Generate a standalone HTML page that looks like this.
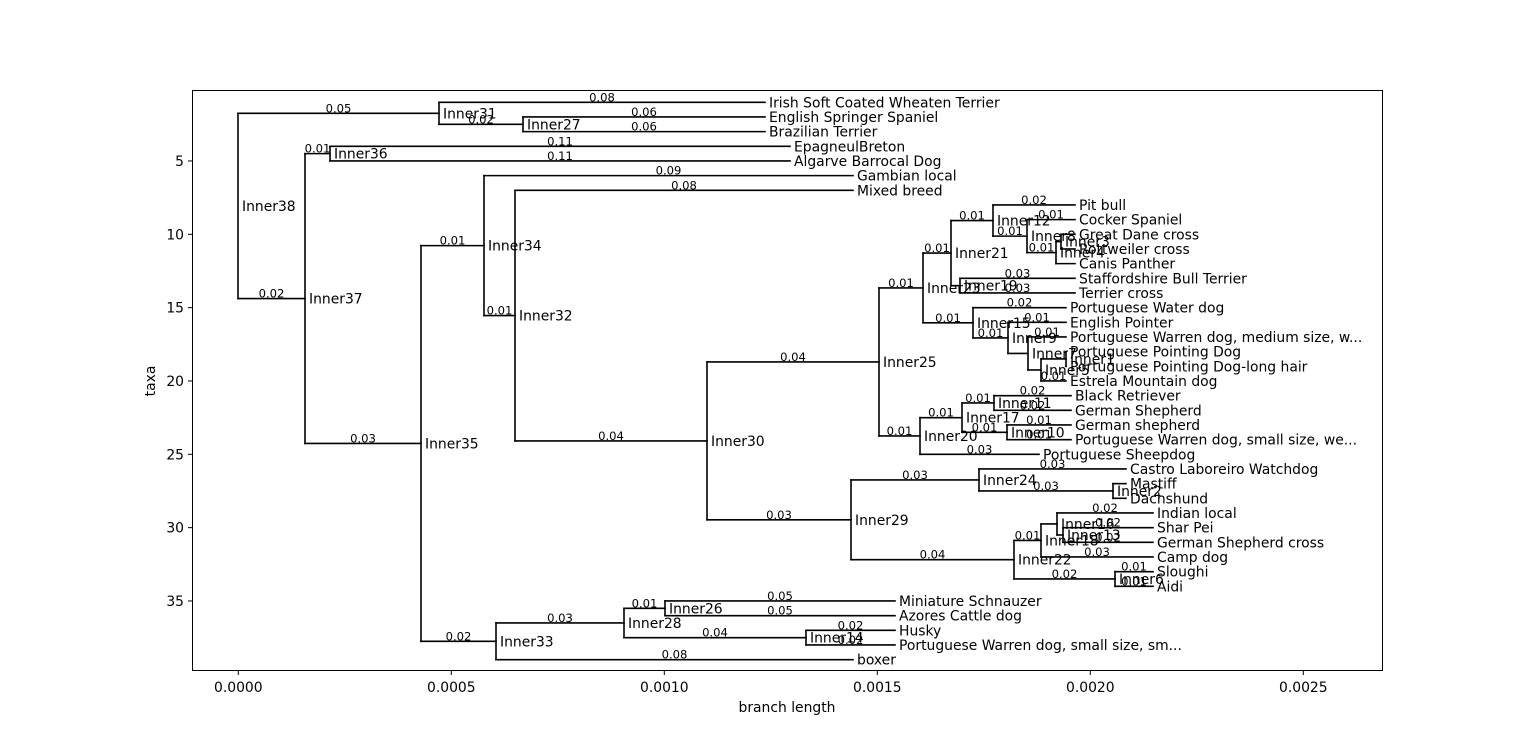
<!DOCTYPE html>
<html><head><meta charset="utf-8"><style>
html,body{margin:0;padding:0;background:#fff;}
svg{display:block;font-family:"DejaVu Sans","Liberation Sans",sans-serif;}
</style></head><body>
<svg id="s" width="1536" height="754" xmlns="http://www.w3.org/2000/svg">
<rect x="192.5" y="90.5" width="1190" height="580" fill="none" stroke="#000" stroke-width="1"/>
<g font-size="13.9" fill="#000" text-anchor="middle">
<text x="238.3" y="692">0.0000</text><text x="451.3" y="692">0.0005</text><text x="664.3" y="692">0.0010</text>
<text x="877.3" y="692">0.0015</text><text x="1090.3" y="692">0.0020</text><text x="1303.3" y="692">0.0025</text>
<text x="787" y="712">branch length</text>
</g>
<g stroke="#000" stroke-width="1">
<line x1="238.3" y1="671" x2="238.3" y2="675"/><line x1="451.3" y1="671" x2="451.3" y2="675"/><line x1="664.3" y1="671" x2="664.3" y2="675"/>
<line x1="877.3" y1="671" x2="877.3" y2="675"/><line x1="1090.3" y1="671" x2="1090.3" y2="675"/><line x1="1303.3" y1="671" x2="1303.3" y2="675"/>
</g>
<g id="yt" font-size="13.9" text-anchor="end"></g>
<text x="155" y="381" font-size="13.9" text-anchor="middle" transform="rotate(-90 155 381)">taxa</text>
<g id="tree"></g>
</svg>
<script>
var svg="http://www.w3.org/2000/svg";
function Y(i){return 102.3+(i-1)*14.667;}
var yt=document.getElementById('yt');
[5,10,15,20,25,30,35].forEach(function(v){
 var y=Y(v);
 var l=document.createElementNS(svg,'line');l.setAttribute('x1',188);l.setAttribute('x2',192);l.setAttribute('y1',y);l.setAttribute('y2',y);l.setAttribute('stroke','#000');yt.appendChild(l);
 var t=document.createElementNS(svg,'text');t.setAttribute('x',184);t.setAttribute('y',y+5);t.textContent=v;yt.appendChild(t);
});
function L(n,x,b){return [n,x,b,null];}
var tree=["Inner38",238,"",[
 ["Inner31",439,"0.05",[
   L("Irish Soft Coated Wheaten Terrier",765,"0.08"),
   ["Inner27",523,"0.02",[L("English Springer Spaniel",765,"0.06"),L("Brazilian Terrier",765,"0.06")]]]],
 ["Inner37",305,"0.02",[
   ["Inner36",330,"0.01",[L("EpagneulBreton",790,"0.11"),L("Algarve Barrocal Dog",790,"0.11")]],
   ["Inner35",421,"0.03",[
     ["Inner34",484,"0.01",[
       L("Gambian local",853,"0.09"),
       ["Inner32",515,"0.01",[
         L("Mixed breed",853,"0.08"),
         ["Inner30",707,"0.04",[
           ["Inner25",879,"0.04",[
             ["Inner23",923,"0.01",[
               ["Inner21",951,"0.01",[
                 ["Inner12",993,"0.01",[
                   L("Pit bull",1075,"0.02"),
                   ["Inner8",1027,"0.01",[
                     L("Cocker Spaniel",1075,"0.01"),
                     ["Inner4",1056,"0.01",[
                       ["Inner3",1061,"",[L("Great Dane cross",1075,""),L("Rottweiler cross",1075,"")]],
                       L("Canis Panther",1075,"")]]]]]],
                 ["Inner19",960,"",[L("Staffordshire Bull Terrier",1075,"0.03"),L("Terrier cross",1075,"0.03")]]]],
               ["Inner15",973,"0.01",[
                 L("Portuguese Water dog",1066,"0.02"),
                 ["Inner9",1008,"0.01",[
                   L("English Pointer",1066,"0.01"),
                   ["Inner7",1028,"",[
                     L("Portuguese Warren dog, medium size, w...",1066,"0.01"),
                     ["Inner5",1041,"",[
                       ["Inner1",1066,"",[L("Portuguese Pointing Dog",1066,""),L("Portuguese Pointing Dog-long hair",1066,"")]],
                       L("Estrela Mountain dog",1066,"0.01")]]]]]]]]]],
             ["Inner20",920,"0.01",[
               ["Inner17",962,"0.01",[
                 ["Inner11",994,"0.01",[L("Black Retriever",1071,"0.02"),L("German Shepherd",1071,"0.02")]],
                 ["Inner10",1007,"0.01",[L("German shepherd",1071,"0.01"),L("Portuguese Warren dog, small size, we...",1071,"0.01")]]]],
               L("Portuguese Sheepdog",1039,"0.03")]]]],
           ["Inner29",851,"0.03",[
             ["Inner24",979,"0.03",[
               L("Castro Laboreiro Watchdog",1126,"0.03"),
               ["Inner2",1113,"0.03",[L("Mastiff",1126,""),L("Dachshund",1126,"")]]]],
             ["Inner22",1014,"0.04",[
               ["Inner18",1041,"0.01",[
                 ["Inner16",1057,"",[
                   L("Indian local",1153,"0.02"),
                   ["Inner13",1063,"",[L("Shar Pei",1153,"0.02"),L("German Shepherd cross",1153,"0.02")]]]],
                 L("Camp dog",1153,"0.03")]],
               ["Inner6",1115,"0.02",[L("Sloughi",1153,"0.01"),L("Aidi",1153,"0.01")]]]]]]]]]]]],
     ["Inner33",496,"0.02",[
       ["Inner28",624,"0.03",[
         ["Inner26",665,"0.01",[L("Miniature Schnauzer",895,"0.05"),L("Azores Cattle dog",895,"0.05")]],
         ["Inner14",806,"0.04",[L("Husky",895,"0.02"),L("Portuguese Warren dog, small size, sm...",895,"0.02")]]]],
       L("boxer",853,"0.08")]]]]]]]];
var g=document.getElementById('tree'),cnt=0,out=[];
function ln(x1,y1,x2,y2){out.push('<line x1="'+x1+'" y1="'+y1+'" x2="'+x2+'" y2="'+y2+'" stroke="#000" stroke-width="1.6" stroke-linecap="square"/>');}
function tx(x,y,s,fs){out.push('<text x="'+x+'" y="'+y+'" font-size="'+fs+'">'+s+'</text>');}
function tb(x,y,s){out.push('<text x="'+x+'" y="'+y+'" font-size="11.6" text-anchor="middle">'+s+'</text>');}
function walk(n,px){
 var y;
 if(!n[3]){cnt++;y=Y(cnt);}
 else{var ys=n[3].map(function(c){return walk(c,n[1]);});
  y=(ys[0]+ys[ys.length-1])/2;ln(n[1],ys[0],n[1],ys[ys.length-1]);}
 if(px!==null){ln(px,y,n[1],y); if(n[2])tb((px+n[1])/2,y-1,n[2]);}
 tx(n[1]+4,y+5,n[0],13.9);
 return y;
}
walk(tree,null);
g.innerHTML=out.join('');
</script>
</body></html>
